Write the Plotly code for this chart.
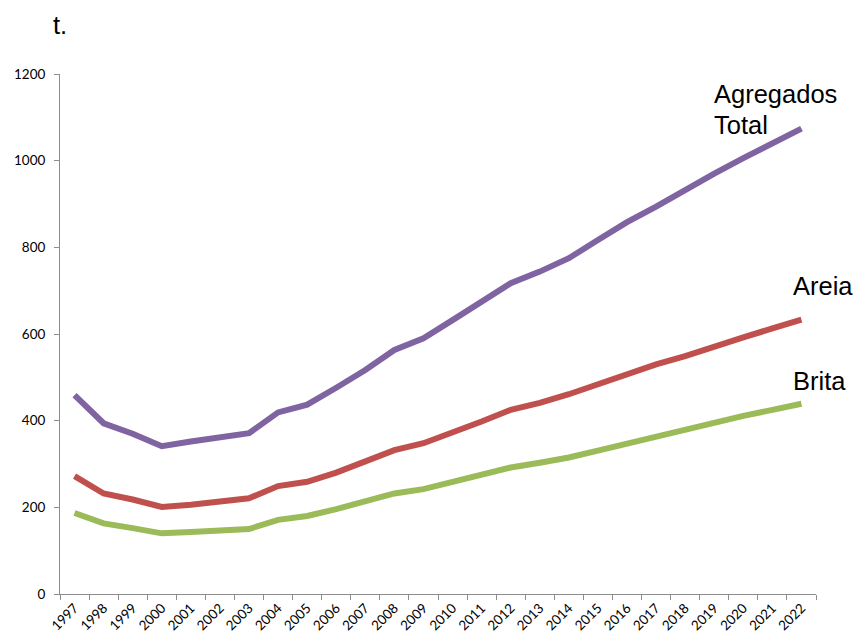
import plotly.graph_objects as go

years = [str(y) for y in range(1997, 2023)]
agregados_total = [459, 394, 370, 341, 352, 360, 371, 419, 437, 476, 517, 563, 590, 632, 675, 717, 744, 775, 817, 858, 894, 933, 970, 1006, 1041, 1074]
areia = [272, 232, 218, 201, 206, 212, 221, 249, 259, 280, 305, 332, 348, 372, 398, 425, 441, 461, 485, 506, 530, 549, 572, 592, 613, 633]
brita = [187, 163, 152, 140, 143, 148, 150, 171, 180, 196, 214, 232, 242, 259, 275, 292, 303, 315, 331, 347, 364, 380, 397, 411, 425, 439]

series = [
    ("Agregados Total", agregados_total, "#8064A2"),
    ("Areia", areia, "#C0504D"),
    ("Brita", brita, "#9BBB59"),
]

fig = go.Figure()
for name, vals, col in series:
    fig.add_trace(go.Scatter(x=years, y=vals, mode="lines", name=name,
                             line=dict(color=col, width=6)))

W, H = 855, 638
L, R, T, B = 60, 39.4, 74, 44
pw, ph = W - L - R, H - T - B

def px(x):
    return (x - L) / pw

def py(y):
    return (H - B - y) / ph

fig.update_layout(
    width=W, height=H,
    margin=dict(l=L, r=R, t=T, b=B, autoexpand=False),
    paper_bgcolor="white", plot_bgcolor="white",
    showlegend=False,
    font=dict(family="Lato, Liberation Sans, sans-serif", size=13, color="#000"),
    xaxis=dict(type="category", range=[-0.5, 25.5], tickangle=-45, automargin=False,
               showline=True, linecolor="#8c8c8c", linewidth=1,
               ticks="outside", ticklen=5, tickcolor="#8c8c8c", tickson="boundaries",
               showgrid=False, zeroline=False, tickfont=dict(size=13.5)),
    yaxis=dict(range=[0, 1200], tickvals=[0, 200, 400, 600, 800, 1000, 1200], automargin=False,
               showline=True, linecolor="#8c8c8c", linewidth=1,
               ticks="outside", ticklen=5, tickcolor="#8c8c8c",
               showgrid=False, zeroline=False, tickfont=dict(size=13.5),
               ticklabelstandoff=6),
)

ann_font = dict(family="Liberation Sans, Arial, sans-serif", size=25.5, color="#000")
anns = [
    ("t.", 51, 25),
    ("Agregados", 712, 94),
    ("Total", 712, 125),
    ("Areia", 791, 286),
    ("Brita", 791, 381),
]
for text, x, y in anns:
    fig.add_annotation(text=text, xref="paper", yref="paper", x=px(x), y=py(y),
                       xanchor="left", yanchor="middle", showarrow=False,
                       font=ann_font)

fig.write_html("out.html")
